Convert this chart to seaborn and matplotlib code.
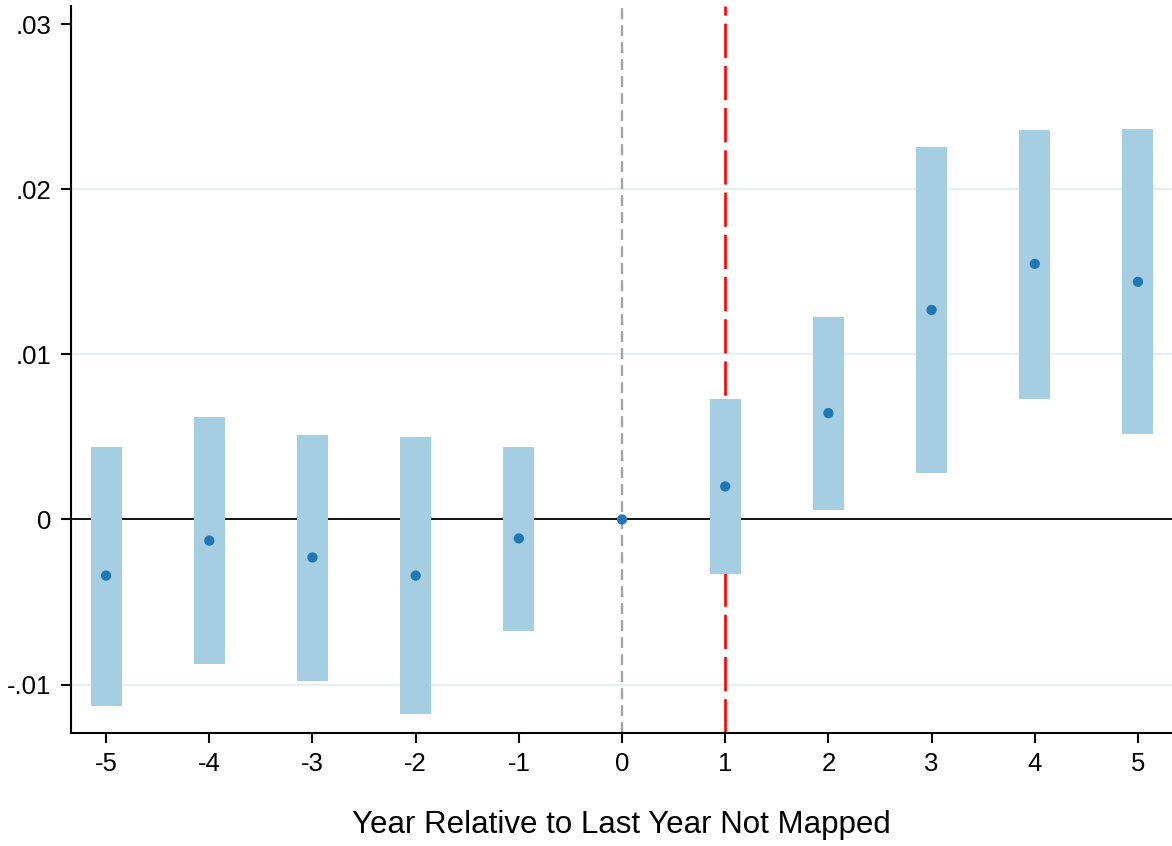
import seaborn as sns
import pandas as pd
import matplotlib.pyplot as plt
from matplotlib.ticker import FuncFormatter

years = [-5, -4, -3, -2, -1, 0, 1, 2, 3, 4, 5]
coef = [-0.0034, -0.00128, -0.0023, -0.0034, -0.00115, 0.0, 0.0020, 0.00644, 0.01269, 0.01548, 0.01439]
ci_low = [-0.0113, -0.00874, -0.00978, -0.0118, -0.00674, 0.0, -0.00328, 0.00055, 0.00279, 0.00729, 0.00516]
ci_high = [0.00437, 0.0062, 0.0051, 0.0050, 0.00437, 0.0, 0.00729, 0.01226, 0.02253, 0.02356, 0.02362]
xtick_labels = ['-5', '-4', '-3', '-2', '-1', '0', '1', '2', '3', '4', '5']

df = pd.DataFrame({'year': years, 'coef': coef, 'lo': ci_low, 'hi': ci_high})
ci_df = df[df['year'] != 0]

sns.set_style('white')
plt.rcParams['font.family'] = ['Liberation Sans', 'DejaVu Sans']
plt.rcParams['axes.unicode_minus'] = False

fig = plt.figure(figsize=(11.72, 8.46), dpi=100)
ax = fig.add_axes([0.0606, 0.1336, 0.9394, 0.8594])

# light gridlines (none at .03 in the original)
for y in [-0.01, 0.01, 0.02]:
    ax.axhline(y, color='#e6eff1', lw=1.6, zorder=0)
ax.axhline(0, color='black', lw=1.3, zorder=1)
ax.axvline(0, color='#a3a3a3', lw=1.7, dashes=(4.6, 2.6), zorder=1)
ax.axvline(1, color='#ff0000', lw=1.9, dashes=(13, 3), zorder=1)

ax.bar(ci_df['year'], ci_df['hi'] - ci_df['lo'], bottom=ci_df['lo'], width=0.3,
       color='#a6cee3', linewidth=0, zorder=2)
sns.scatterplot(data=df, x='year', y='coef', color='#1f78b4', s=55,
                edgecolor='none', zorder=3, ax=ax)

ax.set_xlim(-5.34, 5.33)
ax.set_ylim(-0.01293, 0.0311)
ax.set_xticks(years)
ax.set_xticklabels(xtick_labels)
ax.set_yticks([-0.01, 0, 0.01, 0.02, 0.03])
ax.yaxis.set_major_formatter(FuncFormatter(
    lambda v, p: '0' if abs(v) < 1e-12 else ('%.2f' % v).replace('0.', '.')))

ax.spines['top'].set_visible(False)
ax.spines['right'].set_visible(False)
for s in ['left', 'bottom']:
    ax.spines[s].set_linewidth(1.5)
    ax.spines[s].set_color('black')
ax.tick_params(axis='both', length=7, width=1.5, labelsize=18.5, color='black',
               labelcolor='black', pad=7, left=True, bottom=True)

ax.set_xlabel('Year Relative to Last Year Not Mapped', fontsize=22.5, labelpad=24, color='black')
ax.set_ylabel('')

plt.savefig('out.png', dpi=100)
